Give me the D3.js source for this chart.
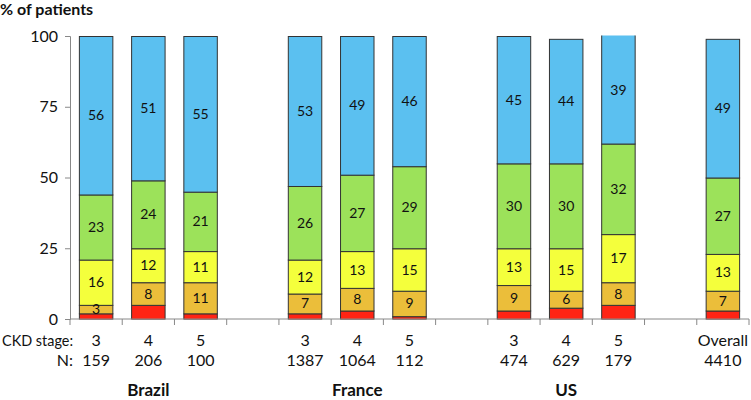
<!DOCTYPE html>
<html>
<head>
<meta charset="utf-8">
<script src="https://cdn.jsdelivr.net/npm/d3@7"></script>
<style>
  body { margin: 0; background: #fff; }
  text { font-family: Lato, "Open Sans", sans-serif; fill: #111; }
</style>
</head>
<body>
<div id="chart"></div>
<script>
// data
const slots = ["B3", "B4", "B5", "g1", "F3", "F4", "F5", "g2", "U3", "U4", "U5", "g3", "O"];
const bars = ["B3", "B4", "B5", "F3", "F4", "F5", "U3", "U4", "U5", "O"];
const stageLabels = ["3", "4", "5", "3", "4", "5", "3", "4", "5", "Overall"];
const nLabels = ["159", "206", "100", "1387", "1064", "112", "474", "629", "179", "4410"];
const groups = [{name: "Brazil", at: "B4"}, {name: "France", at: "F4"}, {name: "US", at: "U4"}];
const red    = [2, 5, 2, 2, 3, 1, 3, 4, 5, 3];
const orange = [3, 8, 11, 7, 8, 9, 9, 6, 8, 7];
const yellow = [16, 12, 11, 12, 13, 15, 13, 15, 17, 13];
const green  = [23, 24, 21, 26, 27, 29, 30, 30, 32, 27];
const blue   = [56, 51, 55, 53, 49, 46, 45, 44, 39, 49];
const yTicks = [0, 25, 50, 75, 100];

const series = [
  {key: "red", values: red, color: "#ff2414", label: false},
  {key: "orange", values: orange, color: "#ebbe3a", label: true},
  {key: "yellow", values: yellow, color: "#f4ff3c", label: true},
  {key: "green", values: green, color: "#9ce25a", label: true},
  {key: "blue", values: blue, color: "#5bc0f0", label: true}
];

const width = 751, height = 400;
const margin = {left: 70, right: 2, top: 36, bottom: 81};

const svg = d3.select("#chart").append("svg")
  .attr("width", width)
  .attr("height", height);

const x = d3.scaleBand()
  .domain(slots)
  .range([margin.left, width - margin.right])
  .paddingInner(0.34)
  .paddingOuter(0.17);

const y = d3.scaleLinear()
  .domain([0, 100])
  .range([height - margin.bottom, margin.top]);

// stack
const table = bars.map((b, i) => {
  const row = {bar: b};
  series.forEach(s => row[s.key] = s.values[i]);
  return row;
});
const stacked = d3.stack().keys(series.map(s => s.key))(table);

svg.append("clipPath").attr("id", "plot")
  .append("rect")
  .attr("x", margin.left).attr("y", margin.top - 0.5)
  .attr("width", width).attr("height", y(0) - margin.top + 1);

const layer = svg.append("g").attr("clip-path", "url(#plot)")
  .selectAll("g")
  .data(stacked)
  .join("g")
  .attr("fill", (d, i) => series[i].color);

layer.selectAll("rect")
  .data(d => d)
  .join("rect")
  .attr("x", d => x(d.data.bar) + 0.5)
  .attr("y", d => y(d[1]) + 0.5)
  .attr("width", x.bandwidth() - 1)
  .attr("height", d => y(d[0]) - y(d[1]))
  .attr("stroke", "#333")
  .attr("stroke-width", 1);

// segment labels
svg.append("g").selectAll("g")
  .data(stacked.filter((d, i) => series[i].label))
  .join("g")
  .selectAll("text")
  .data(d => d)
  .join("text")
  .attr("x", d => x(d.data.bar) + x.bandwidth() / 2)
  .attr("y", d => (y(d[0]) + y(Math.min(d[1], 100))) / 2)
  .attr("dy", "0.36em")
  .attr("text-anchor", "middle")
  .style("font-size", "14px")
  .text(d => d[1] - d[0]);

// y axis
const yAxis = svg.append("g")
  .attr("transform", `translate(${margin.left},0)`)
  .call(d3.axisLeft(y).tickValues(yTicks).tickSize(5).tickPadding(7));
yAxis.select(".domain").attr("stroke", "#888");
yAxis.selectAll(".tick line").attr("stroke", "#888");
yAxis.selectAll(".tick text")
  .style("font-size", "16px")
  .style("font-family", "Lato, sans-serif")
  .attr("fill", "#111");

// x axis line with ticks between slots
const base = y(0);
svg.append("line")
  .attr("x1", margin.left).attr("x2", width - 2)
  .attr("y1", base).attr("y2", base)
  .attr("stroke", "#888");
const step = x.step();
svg.append("g").selectAll("line")
  .data(d3.range(slots.length + 1))
  .join("line")
  .attr("x1", i => margin.left + i * step)
  .attr("x2", i => margin.left + i * step)
  .attr("y1", base).attr("y2", base + 6)
  .attr("stroke", "#888");

// category labels
const lab = svg.append("g").style("font-size", "16px");
lab.selectAll(".stage")
  .data(bars)
  .join("text")
  .attr("class", "stage")
  .attr("x", b => x(b) + x.bandwidth() / 2)
  .attr("y", 346)
  .attr("text-anchor", "middle")
  .text((b, i) => stageLabels[i]);
lab.selectAll(".n")
  .data(bars)
  .join("text")
  .attr("class", "n")
  .attr("x", b => x(b) + x.bandwidth() / 2)
  .attr("y", 366)
  .attr("text-anchor", "middle")
  .text((b, i) => nLabels[i]);
lab.append("text").attr("x", 2).attr("y", 346)
  .attr("textLength", 71).attr("lengthAdjust", "spacingAndGlyphs")
  .text("CKD stage:");
lab.append("text").attr("x", 73).attr("y", 366).attr("text-anchor", "end").text("N:");

svg.append("g").selectAll("text")
  .data(groups)
  .join("text")
  .attr("x", g => x(g.at) + x.bandwidth() / 2)
  .attr("y", 396)
  .attr("text-anchor", "middle")
  .style("font-size", "17px")
  .style("font-weight", "bold")
  .text(g => g.name);

svg.append("text")
  .attr("x", 0).attr("y", 15)
  .style("font-size", "16px")
  .style("font-weight", "bold")
  .text("% of patients");
</script>
</body>
</html>
